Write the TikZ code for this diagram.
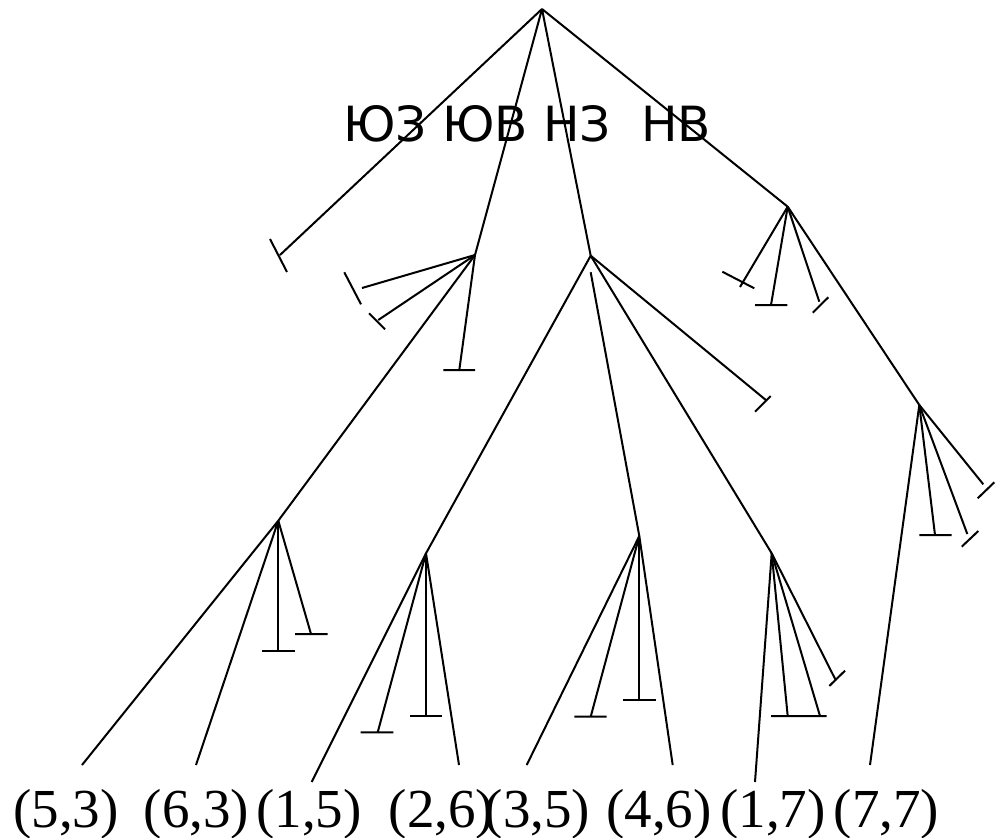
\documentclass[tikz,border=0pt]{standalone}
\usepackage{fontspec}
\setmainfont{Liberation Serif}
\newfontfamily\hdrfont{DejaVu Sans}
\begin{document}
\begin{tikzpicture}[x=1pt,y=-1pt,
  edge/.style={draw=black,line width=2pt},
  lbl/.style={anchor=base,inner sep=0pt,font=\fontsize{55}{60}\selectfont},
  hdr/.style={anchor=base west,inner sep=0pt,font=\hdrfont\fontsize{48.5}{56}\selectfont}]
\useasboundingbox (0,0) rectangle (999,838);
% tree vertices
\coordinate (root) at (542,9);
\coordinate (A) at (475,255);
\coordinate (B) at (278.3,520.7);
\coordinate (C) at (590.7,255.7);
\coordinate (D) at (787.7,206.7);
\coordinate (E) at (426,553.3);
\coordinate (F) at (639.3,536);
\coordinate (G) at (771.7,553.3);
\coordinate (H) at (919.3,405);
% bottom leaf ends
\coordinate (L1) at (82,765);
\coordinate (L2) at (196,765);
\coordinate (L3) at (311.7,782);
\coordinate (L4) at (459,765);
\coordinate (L5) at (526.7,765);
\coordinate (L6) at (672.7,765);
\coordinate (L7) at (755,782);
\coordinate (L8) at (870,765);
% dead ends
\coordinate (l0) at (280,255);   \coordinate (l0a) at (270,239);   \coordinate (l0b) at (287,272);
\coordinate (a1) at (362,288);   \coordinate (a1a) at (344.3,272.3); \coordinate (a1b) at (361,304.3);
\coordinate (a2) at (378.3,320); \coordinate (a2a) at (369,313.3); \coordinate (a2b) at (385,329.3);
\coordinate (a4) at (459.3,370); \coordinate (a4a) at (443.3,370); \coordinate (a4b) at (475,370);
\coordinate (c2s) at (590.7,272.3);
\coordinate (c4) at (766.7,400.7); \coordinate (c4a) at (755,411.7); \coordinate (c4b) at (770.7,396);
\coordinate (d1) at (740,287);   \coordinate (d1a) at (722.3,271.7); \coordinate (d1b) at (754.3,288.3);
\coordinate (d2) at (771,305);   \coordinate (d2a) at (755,305);   \coordinate (d2b) at (787.3,305);
\coordinate (d3) at (819.3,301.7); \coordinate (d3a) at (812.7,312.7); \coordinate (d3b) at (828.3,297.3);
\coordinate (h2) at (935,535);   \coordinate (h2a) at (919.3,535); \coordinate (h2b) at (951.7,535);
\coordinate (h3) at (967.3,534); \coordinate (h3a) at (961.7,546.7); \coordinate (h3b) at (978.3,531);
\coordinate (h4) at (983.3,484.3); \coordinate (h4a) at (977.7,498.3); \coordinate (h4b) at (994.3,482.3);
\coordinate (b3) at (278.3,650.7); \coordinate (b3a) at (262.3,650.7); \coordinate (b3b) at (295,650.7);
\coordinate (b4) at (311,634);   \coordinate (b4a) at (295,634);   \coordinate (b4b) at (327.7,634);
\coordinate (e2) at (377.7,732.3); \coordinate (e2a) at (360.7,732.3); \coordinate (e2b) at (393.3,732.3);
\coordinate (e3) at (426,716);   \coordinate (e3a) at (410,716);   \coordinate (e3b) at (442.3,716);
\coordinate (f2) at (590.7,716.7); \coordinate (f2a) at (574.3,716.7); \coordinate (f2b) at (606.7,716.7);
\coordinate (f3) at (639.3,700); \coordinate (f3a) at (623.3,700); \coordinate (f3b) at (655.7,700);
\coordinate (g2) at (787.7,716); \coordinate (g2a) at (771,716);   \coordinate (g2b) at (803,716);
\coordinate (g3) at (820,716);   \coordinate (g3a) at (803,716);   \coordinate (g3b) at (826.7,716);
\coordinate (g4) at (836,680.7); \coordinate (g4a) at (829.3,686); \coordinate (g4b) at (845,670.7);
% edges
\path[edge] (root) -- (l0) (l0a) -- (l0b);
\path[edge] (root) -- (A) (root) -- (C) (root) -- (D);
\path[edge] (A) -- (a1) (a1a) -- (a1b);
\path[edge] (A) -- (a2) (a2a) -- (a2b);
\path[edge] (A) -- (B);
\path[edge] (A) -- (a4) (a4a) -- (a4b);
\path[edge] (C) -- (E) (c2s) -- (F) (C) -- (G);
\path[edge] (C) -- (c4) (c4a) -- (c4b);
\path[edge] (D) -- (d1) (d1a) -- (d1b);
\path[edge] (D) -- (d2) (d2a) -- (d2b);
\path[edge] (D) -- (d3) (d3a) -- (d3b);
\path[edge] (D) -- (H);
\path[edge] (H) -- (L8);
\path[edge] (H) -- (h2) (h2a) -- (h2b);
\path[edge] (H) -- (h3) (h3a) -- (h3b);
\path[edge] (H) -- (h4) (h4a) -- (h4b);
\path[edge] (B) -- (L1) (B) -- (L2);
\path[edge] (B) -- (b3) (b3a) -- (b3b);
\path[edge] (B) -- (b4) (b4a) -- (b4b);
\path[edge] (E) -- (L3) (E) -- (L4);
\path[edge] (E) -- (e2) (e2a) -- (e2b);
\path[edge] (E) -- (e3) (e3a) -- (e3b);
\path[edge] (F) -- (L5) (F) -- (L6);
\path[edge] (F) -- (f2) (f2a) -- (f2b);
\path[edge] (F) -- (f3) (f3a) -- (f3b);
\path[edge] (G) -- (L7);
\path[edge] (G) -- (g2) (g2a) -- (g2b);
\path[edge] (G) -- (g3) (g3a) -- (g3b);
\path[edge] (G) -- (g4) (g4a) -- (g4b);
% header
\node[hdr] (hdr) at (343,141) {ЮЗ ЮВ НЗ \ НВ};
% labels
\node[lbl] (t1) at (66,827) {(5,3)};
\node[lbl] (t2) at (196.5,827) {(6,3)};
\node[lbl] (t3) at (309,827) {(1,5)};
\node[lbl] (t4) at (441.5,827) {(2,6)};
\node[lbl] (t5) at (537.5,827) {(3,5)};
\node[lbl] (t6) at (659,827) {(4,6)};
\node[lbl] (t7) at (773,827) {(1,7)};
\node[lbl] (t8) at (886.5,827) {(7,7)};
\end{tikzpicture}
\end{document}
